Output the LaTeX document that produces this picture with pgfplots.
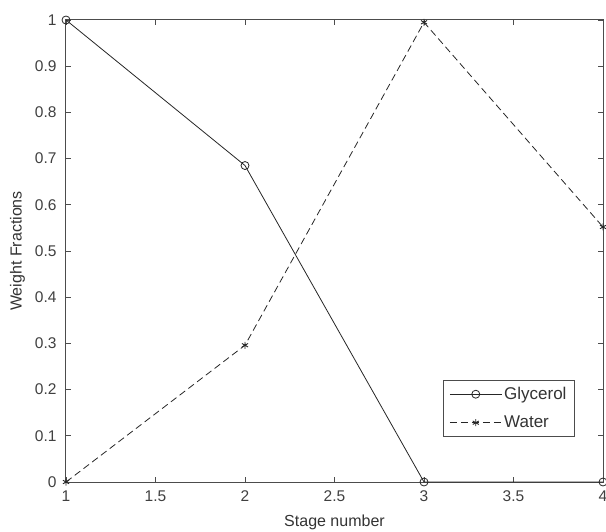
\documentclass[border=0pt]{standalone}
\usepackage{fontspec}
\setmainfont{Liberation Sans}
\usepackage{pgfplots}
\pgfplotsset{compat=1.18}
\begin{document}
\begin{tikzpicture}
\begin{axis}[
  scale only axis,
  width=537pt, height=462pt,
  xmin=1, xmax=4, ymin=0, ymax=1,
  xtick={1,1.5,2,2.5,3,3.5,4},
  ytick={0,0.1,0.2,0.3,0.4,0.5,0.6,0.7,0.8,0.9,1},
  xticklabels={1,1.5,2,2.5,3,3.5,4},
  yticklabels={0,0.1,0.2,0.3,0.4,0.5,0.6,0.7,0.8,0.9,1},
  tick align=inside,
  major tick length=5pt,
  tick style={black!70, line width=0.8pt},
  axis line style={black!70, line width=1pt},
  ticklabel style={font=\fontsize{15.5}{18}\selectfont, text=black!75},
  xticklabel style={yshift=-5pt},
  yticklabel style={xshift=-6pt},
  xlabel={Stage number},
  ylabel={Weight Fractions},
  label style={font=\fontsize{16}{19}\selectfont, text=black!80},
  xlabel style={yshift=-7pt},
  ylabel style={yshift=3pt},
  clip=false,
  legend style={at={(0.702,0.221)}, anchor=north west, draw=black!70, line width=0.8pt,
    font=\fontsize{17}{20}\selectfont, text=black!80, inner xsep=6pt, inner ysep=5pt, row sep=11pt},
  legend cell align=left,
  legend image code/.code={
    \draw[mark repeat=2,mark phase=2,#1] plot coordinates {(0pt,0pt) (26pt,0pt) (52pt,0pt)};
  },
]
\addplot[black!85, line width=0.8pt, mark=o, mark size=4pt, mark options={solid, line width=0.8pt}]
  coordinates {(1,1) (2,0.685) (3,0) (4,0)};
\addlegendentry{Glycerol}
\addplot[black!85, line width=0.8pt, dash pattern=on 7pt off 4pt, mark=asterisk, mark size=3.5pt, mark options={solid, line width=0.9pt}]
  coordinates {(1,0) (2,0.296) (3,0.995) (4,0.552)};
\addlegendentry{Water}
\coordinate (SW) at (rel axis cs:0,0);
\coordinate (NE) at (rel axis cs:1,1);
\end{axis}
\pgfresetboundingbox
\useasboundingbox ([xshift=-66pt,yshift=-49pt]SW) rectangle ([xshift=3pt,yshift=20pt]NE);
\end{tikzpicture}
\end{document}
